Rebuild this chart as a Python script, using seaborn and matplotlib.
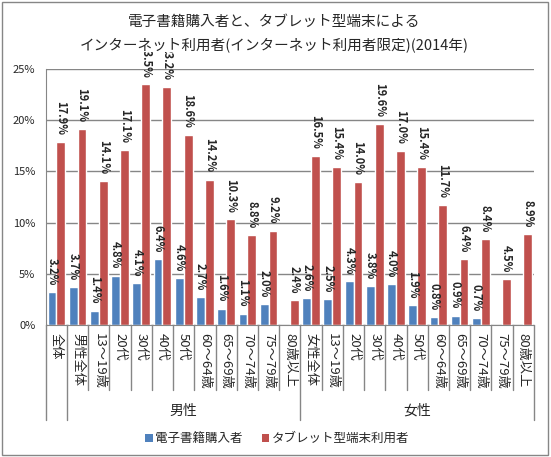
import numpy as np
import pandas as pd
import seaborn as sns
import matplotlib.pyplot as plt
import matplotlib.transforms as mtransforms
from matplotlib.patches import Patch, Rectangle
from matplotlib.ticker import FuncFormatter

# data (2014)
categories = ['全体', '男性全体', '13～19歳', '20代', '30代', '40代', '50代',
              '60～64歳', '65～69歳', '70～74歳', '75～79歳', '80歳以上',
              '女性全体', '13～19歳', '20代', '30代', '40代', '50代',
              '60～64歳', '65～69歳', '70～74歳', '75～79歳', '80歳以上']
ebook = [3.2, 3.7, 1.4, 4.8, 4.1, 6.4, 4.6, 2.7, 1.6, 1.1, 2.0, None,
         2.6, 2.5, 4.3, 3.8, 4.0, 1.9, 0.8, 0.9, 0.7, None, None]
tablet = [17.9, 19.1, 14.1, 17.1, 23.5, 23.2, 18.6, 14.2, 10.3, 8.8, 9.2, 2.4,
          16.5, 15.4, 14.0, 19.6, 17.0, 15.4, 11.7, 6.4, 8.4, 4.5, 8.9]
series_names = ['電子書籍購入者', 'タブレット型端末利用者']
group_names = ['男性', '女性']
group_members = [list(range(1, 12)), list(range(12, 23))]
colors = ['#4F81BD', '#C0504D']
grid_col = '#868686'

sns.set_style('white')
plt.rcParams['font.family'] = ['Noto Sans CJK JP', 'DejaVu Sans']

keys = [f'{i:02d}_{c}' for i, c in enumerate(categories)]
df = pd.DataFrame({
    'key': keys * 2,
    'series': [series_names[0]] * len(keys) + [series_names[1]] * len(keys),
    'value': ebook + tablet,
})
df['value'] = pd.to_numeric(df['value']).fillna(0)

fig = plt.figure(figsize=(5.51, 4.57), dpi=100)
ax = fig.add_axes([0.083, 0.289, 0.886, 0.560])

sns.barplot(data=df, x='key', y='value', hue='series', order=keys,
            hue_order=series_names, palette=colors, saturation=1,
            width=0.83, gap=0, errorbar=None, legend=False, ax=ax, zorder=2)

# value labels
for cont, vals in zip(ax.containers, [ebook, tablet]):
    labels = ['' if v is None else f'{v:.1f}%' for v in vals]
    ax.bar_label(cont, labels=labels, rotation=-90, padding=5,
                 fontsize=8, fontweight='bold', clip_on=False)

ax.set_ylim(0, 25)
ax.set_xlim(-0.5, len(categories) - 0.5)
ax.set_yticks(np.arange(0, 26, 5))
ax.yaxis.set_major_formatter(FuncFormatter(lambda v, p: f'{v:.0f}%'))
ax.yaxis.grid(True, color=grid_col, lw=1)
ax.set_axisbelow(True)
ax.set_xlabel('')
ax.set_ylabel('')
for s in ['top', 'right']:
    ax.spines[s].set_visible(False)
for s in ['left', 'bottom']:
    ax.spines[s].set_color(grid_col)
ax.tick_params(axis='y', length=4, color=grid_col, labelsize=8)
ax.tick_params(axis='x', length=0, pad=6)
ax.set_xticks(range(len(categories)))
ax.set_xticklabels(categories, rotation=-90, va='top', ha='center', fontsize=9.5)

# category separators and group labels below the axis
trans = mtransforms.blended_transform_factory(ax.transData, ax.transAxes)
long_seps = [-0.5, 0.5, 11.5, len(categories) - 0.5]
for b in np.arange(-0.5, len(categories)):
    y_end = -0.371 if b in long_seps else -0.254
    ax.plot([b, b], [0, y_end], color=grid_col, lw=1, transform=trans, clip_on=False)
for name, members in zip(group_names, group_members):
    ax.text(np.mean(members), -0.336, name, transform=trans, ha='center',
            va='center', fontsize=10)

# title (white box hides the tallest labels like the original)
fig.text(0.497, 0.952, '電子書籍購入者と、タブレット型端末による', ha='center',
         va='center', fontsize=10.5, zorder=5)
fig.text(0.497, 0.903, 'インターネット利用者(インターネット利用者限定)(2014年)',
         ha='center', va='center', fontsize=10.5, zorder=5,
         bbox=dict(facecolor='white', edgecolor='none', pad=0))

handles = [Patch(facecolor=c, edgecolor='none') for c in colors]
fig.legend(handles, series_names, loc='center', bbox_to_anchor=(0.503, 0.04),
           ncol=2, frameon=False, fontsize=9, handlelength=0.6, handleheight=0.6,
           handletextpad=0.2, columnspacing=1.5)

fig.patches.append(Rectangle((0.004, 0.005), 0.99, 0.99, transform=fig.transFigure,
                             fill=False, edgecolor=grid_col, lw=1))

fig.savefig('out.png', dpi=100)
